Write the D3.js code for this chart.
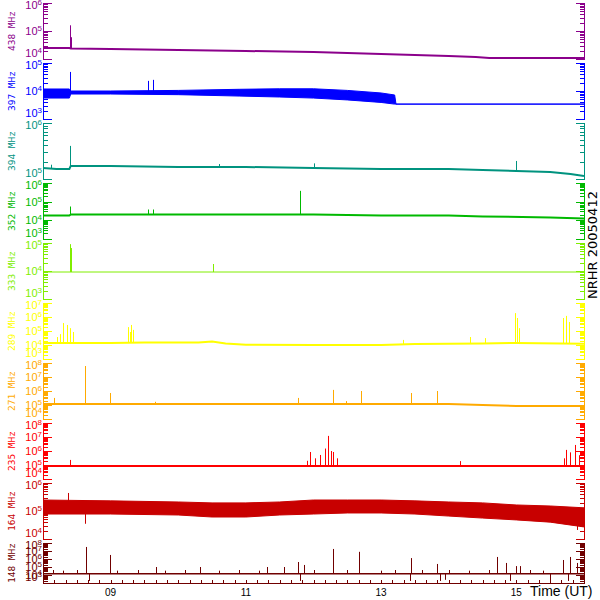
<!DOCTYPE html>
<html><head><meta charset="utf-8">
<script src="https://cdn.jsdelivr.net/npm/d3@7"></script>
<style>body{margin:0;background:#fff}svg{display:block}</style>
</head><body><svg id="c" width="600" height="600"></svg>
<script>
// ---------------- data ----------------
const timeDomain = [8, 16];               // hours UT
const xTickHours = [9, 11, 13, 15];
const xTickLabels = ["09", "11", "13", "15"];
const xAxisTitle = "Time (UT)";
const sideTitle = "NRHR 20050412";

const freqLabels = ["438 MHz","397 MHz","394 MHz","352 MHz","333 MHz","289 MHz","271 MHz","235 MHz","164 MHz","148 MHz"];
const panelColors = ["#8b008b","#0000ff","#00937f","#00b900","#80ee00","#ffff00","#ffaa00","#ff0000","#c80000","#700000"];
const decadeLo = [4,3,5,3,3,3,4,4,4,3];
const decadeHi = [6,5,6,6,5,7,8,8,6,8];

// 438 MHz
const t438 = [8.0, 8.39, 8.41, 9.0, 10.0, 11.0, 12.0, 13.0, 13.5, 14.0, 14.4, 14.6, 16.0];
const v438 = [2.45e4, 2.45e4, 2.37e4, 2.27e4, 2.1e4, 1.93e4, 1.78e4, 1.51e4, 1.39e4, 1.28e4, 1.18e4, 1.09e4, 1.09e4];
const spk438 = [[8.40, 1.6e5], [8.41, 6.0e4]];

// 397 MHz (noisy band)
const t397  = [8.0, 8.39, 8.41, 9.0, 10.0, 10.9, 11.5, 12.0, 12.5, 13.0, 13.2, 13.22, 16.0];
const hi397 = [1.18e4, 1.18e4, 1.0e4, 1.0e4, 1.05e4, 1.15e4, 1.2e4, 1.2e4, 1.05e4, 8.5e3, 7.2e3, 3.4e3, 3.4e3];
const lo397 = [5.6e3, 5.6e3, 7.8e3, 7.8e3, 7.4e3, 6.6e3, 6.1e3, 5.6e3, 4.8e3, 3.9e3, 3.4e3, 3.4e3, 3.4e3];
const spk397 = [[8.40, 4.8e4], [9.55, 2.3e4], [9.63, 2.5e4]];

// 394 MHz
const t394 = [8.0, 8.2, 8.39, 8.41, 9.0, 10.0, 11.0, 12.0, 13.0, 14.0, 14.5, 15.0, 15.5, 15.8, 16.0];
const v394 = [1.57e5, 1.51e5, 1.51e5, 1.71e5, 1.71e5, 1.64e5, 1.64e5, 1.57e5, 1.51e5, 1.51e5, 1.45e5, 1.39e5, 1.33e5, 1.23e5, 1.13e5];
const spk394 = [[8.40, 3.9e5], [8.12, 1.8e5], [10.6, 1.85e5], [12.0, 1.9e5], [15.0, 2.1e5]];

// 352 MHz
const t352 = [8.0, 8.39, 8.41, 12.0, 13.0, 14.0, 14.5, 15.5, 16.0];
const v352 = [1.83e4, 1.83e4, 2.07e4, 2.07e4, 1.83e4, 1.83e4, 1.62e4, 1.43e4, 1.27e4];
const spk352 = [[8.40, 5.5e4], [9.55, 3.8e4], [9.63, 3.8e4], [11.80, 3.8e5]];

// 333 MHz
const t333 = [8.0, 16.0];
const v333 = [9.2e3, 9.2e3];
const spk333 = [[8.40, 9.1e4], [8.42, 6.6e4], [10.51, 1.78e4]];

// 289 MHz
const t289 = [8.0, 9.0, 9.5, 10.3, 10.5, 10.7, 11.0, 12.0, 13.0, 13.5, 14.5, 15.0, 16.0];
const v289 = [1.39e4, 1.39e4, 1.5e4, 1.5e4, 1.8e4, 1.3e4, 1.05e4, 1.0e4, 1.0e4, 1.18e4, 1.3e4, 1.39e4, 1.25e4];
const spk289 = [[8.20, 3.7e4], [8.25, 6.0e4], [8.30, 3.7e5], [8.35, 2.7e5], [8.40, 1.6e5], [8.44, 8.5e4],
                [9.25, 1.9e5], [9.28, 8.5e4], [9.30, 2.7e5], [9.33, 1.2e5], [13.33, 2.3e4], [14.32, 3.7e4],
                [14.54, 3.1e4], [14.98, 1.9e6], [15.01, 8.5e5], [15.04, 1.6e5], [15.69, 8.5e5], [15.74, 1.2e6], [15.78, 4.4e5]];

// 271 MHz
const t271 = [8.0, 14.0, 14.5, 15.0, 16.0];
const v271 = [1.18e5, 1.18e5, 1.0e5, 8.5e4, 8.5e4];
const spk271 = [[8.17, 3.2e5], [8.62, 6.1e7], [8.99, 7.2e5], [9.65, 1.7e5], [11.77, 3.2e5], [12.29, 1.2e6],
                [12.48, 1.9e5], [12.70, 1.0e6], [13.44, 7.2e5], [13.83, 1.0e6]];

// 235 MHz
const t235 = [8.0, 16.0];
const v235 = [8.5e4, 8.5e4];
const spk235 = [[8.40, 2.3e5], [11.90, 2.0e5], [11.95, 8.5e5], [12.02, 3.0e5], [12.10, 5.2e5], [12.17, 1.5e6],
                [12.22, 1.2e7], [12.26, 1.0e6], [12.29, 8.5e5], [12.35, 3.0e5], [14.17, 1.9e5], [15.70, 3.0e5],
                [15.74, 1.2e6], [15.80, 8.0e5], [15.87, 2.7e6], [15.93, 5.0e5]];

// 164 MHz (noisy band)
const t164  = [8.0, 9.0, 10.0, 10.5, 11.0, 11.5, 12.0, 12.5, 13.0, 13.5, 14.0, 14.5, 15.0, 15.5, 16.0];
const hi164 = [2.47e5, 2.3e5, 2.1e5, 1.95e5, 1.95e5, 2.1e5, 2.47e5, 2.47e5, 2.47e5, 2.3e5, 2.1e5, 1.95e5, 1.64e5, 1.51e5, 1.3e5];
const lo164 = [7.8e4, 7.8e4, 7.2e4, 6.1e4, 6.1e4, 7.2e4, 7.8e4, 8.5e4, 8.5e4, 7.8e4, 6.6e4, 5.6e4, 4.8e4, 4.0e4, 2.7e4];
const spk164 = [[8.37, 4.4e5], [8.62, 3.5e4], [15.90, 2.1e4]];

// 148 MHz
const t148 = [8.0, 16.0];
const v148 = [1.4e4, 1.4e4];
const spk148 = [[8.15, 4.2e4], [8.30, 3.5e4], [8.50, 4.2e4], [8.64, 3.2e7], [8.68, 1.8e3], [8.99, 3.2e6],
                [9.10, 3.5e4], [9.40, 4.2e4], [9.67, 1.0e5], [9.80, 3.5e4], [10.10, 4.2e4], [10.32, 1.0e5],
                [10.60, 3.5e4], [10.90, 4.2e4], [11.20, 3.5e4], [11.31, 1.0e5], [11.57, 1.0e5], [11.77, 4.2e5],
                [11.80, 1.8e3], [11.86, 1.8e5], [12.00, 4.2e4], [12.29, 1.8e7], [12.50, 4.2e4], [12.68, 7.9e6],
                [13.00, 3.5e4], [13.20, 4.2e4], [13.43, 1.8e3], [13.44, 1.3e6], [13.60, 4.2e4], [13.83, 2.4e5],
                [13.87, 1.8e3], [13.95, 2.5e3], [14.00, 4.2e4], [14.30, 3.5e4], [14.60, 4.2e4], [14.72, 1.8e6],
                [14.85, 3.2e5], [14.91, 1.8e3], [15.00, 1.3e5], [15.05, 1.3e5], [15.20, 4.2e4], [15.40, 3.5e4],
                [15.49, 1.8e3], [15.69, 7.5e5], [15.77, 1.8e3], [15.80, 1.8e6], [15.90, 3.2e5]];

// ---------------- assemble ----------------
const series = [
  {t: t438, v: v438, spk: spk438, w: 2},
  {t: t397, lo: lo397, hi: hi397, spk: spk397, w: 1},
  {t: t394, v: v394, spk: spk394, w: 2},
  {t: t352, v: v352, spk: spk352, w: 2},
  {t: t333, v: v333, spk: spk333, w: 1},
  {t: t289, v: v289, spk: spk289, w: 2},
  {t: t271, v: v271, spk: spk271, w: 2},
  {t: t235, v: v235, spk: spk235, w: 2},
  {t: t164, lo: lo164, hi: hi164, spk: spk164, w: 1},
  {t: t148, v: v148, spk: spk148, w: 1.5}
];

const svg = d3.select("#c");
svg.append("rect").attr("width",600).attr("height",600).attr("fill","#fff");
const X0 = 43, X1 = 584;
const x = d3.scaleLinear().domain(timeDomain).range([X0, X1]);

function interp(ts, vs, t){
  const i = d3.bisectRight(ts, t);
  if (i <= 0) return vs[0];
  if (i >= ts.length) return vs[vs.length-1];
  const f = (t - ts[i-1]) / (ts[i] - ts[i-1]);
  return Math.exp(Math.log(vs[i-1]) + f*(Math.log(vs[i]) - Math.log(vs[i-1])));
}

series.forEach((s, k) => {
  const top = 3 + 60*k;
  const bottom = k === 9 ? 583 : top + 56;
  const col = panelColors[k];
  const y = d3.scaleLog().domain([Math.pow(10, decadeLo[k]), Math.pow(10, decadeHi[k])]).range([bottom, top]);
  const g = svg.append("g");

  const clipId = "clip" + k;
  svg.append("clipPath").attr("id", clipId).append("rect")
     .attr("x", X0).attr("y", top).attr("width", X1 - X0).attr("height", bottom - top);
  const dg = g.append("g").attr("clip-path", `url(#${clipId})`);

  let baseFn;
  if (s.v) {
    const pts = s.t.map((t,i)=>[t, s.v[i]]);
    dg.append("path").datum(pts)
      .attr("d", d3.line().x(d=>x(d[0])).y(d=>y(d[1])))
      .attr("fill","none").attr("stroke", col).attr("stroke-width", s.w);
    baseFn = t => interp(s.t, s.v, t);
  } else {
    const pts = s.t.map((t,i)=>[t, s.lo[i], s.hi[i]]);
    dg.append("path").datum(pts)
      .attr("d", d3.area().x(d=>x(d[0])).y0(d=>y(d[1])).y1(d=>y(d[2])))
      .attr("fill", col).attr("stroke", col).attr("stroke-width", s.w);
    const mid = s.t.map((t,i)=>Math.sqrt(s.lo[i]*s.hi[i]));
    baseFn = t => interp(s.t, mid, t);
  }
  dg.selectAll("line.spk").data(s.spk).join("line")
    .attr("x1", d=>Math.round(x(d[0]))+0.5).attr("x2", d=>Math.round(x(d[0]))+0.5)
    .attr("y1", d=>y(baseFn(d[0]))).attr("y2", d=>y(d[1]))
    .attr("stroke", col).attr("stroke-width", 1);

  // axes (left and right) with log ticks
  const ag = g.append("g").attr("stroke", col).attr("stroke-width", 1).attr("shape-rendering","crispEdges");
  ag.append("line").attr("x1", X0+0.5).attr("x2", X0+0.5).attr("y1", top).attr("y2", bottom);
  ag.append("line").attr("x1", X1+0.5).attr("x2", X1+0.5).attr("y1", top).attr("y2", bottom);
  const ticks = [];
  for (let d = decadeLo[k]; d <= decadeHi[k]; d++) {
    ticks.push({v: Math.pow(10, d), major: true, d});
    if (d < decadeHi[k]) for (let m = 2; m <= 9; m++) ticks.push({v: m*Math.pow(10, d), major: false});
  }
  ticks.forEach(tk => {
    const yy = Math.round(y(tk.v)) + 0.5;
    const len = tk.major ? 9 : 5;
    ag.append("line").attr("x1", X0).attr("x2", X0+len).attr("y1", yy).attr("y2", yy);
    ag.append("line").attr("x1", X1+1).attr("x2", X1+1-len).attr("y1", yy).attr("y2", yy);
  });
  ticks.filter(tk=>tk.major).forEach(tk => {
    let yy = y(tk.v) + 4;
    if (tk.d === decadeLo[k]) yy = y(tk.v) - 2;
    if (tk.d === decadeHi[k]) yy = y(tk.v) + 6;
    const txt = g.append("text").attr("x", 42).attr("y", yy)
      .attr("text-anchor","end").attr("fill", col)
      .attr("font-family","Liberation Sans, Arial, sans-serif").attr("font-size", 11);
    txt.append("tspan").text("10");
    txt.append("tspan").attr("dy", -4).attr("font-size", 8).text(String(tk.d));
  });

  // frequency label
  g.append("text")
    .attr("transform", `translate(15,${(top+bottom)/2}) rotate(-90)`)
    .attr("text-anchor","middle").attr("fill", col)
    .attr("font-family","DejaVu Sans Mono, monospace").attr("font-size", 9.5)
    .text(freqLabels[k]);

  // x axis on the last panel
  if (k === 9) {
    const xg = g.append("g").attr("stroke", col).attr("shape-rendering","crispEdges");
    xg.append("line").attr("x1", X0).attr("x2", X1+1).attr("y1", bottom+0.5).attr("y2", bottom+0.5);
    const minor = d3.range(0, 49).map(i => timeDomain[0] + i/6);
    xg.selectAll("line.mt").data(minor).join("line")
      .attr("x1", d=>Math.round(x(d))+0.5).attr("x2", d=>Math.round(x(d))+0.5)
      .attr("y1", bottom).attr("y2", bottom-3);
  }
});

// x tick labels
svg.selectAll("text.xl").data(xTickHours).join("text")
  .attr("x", d=>x(d)).attr("y", 596).attr("text-anchor","middle")
  .attr("font-family","Liberation Sans, Arial, sans-serif").attr("font-size", 10).attr("fill","#000")
  .text((d,i)=>xTickLabels[i]);
svg.append("text").attr("x", 530).attr("y", 596)
  .attr("font-family","Liberation Sans, Arial, sans-serif").attr("font-size", 14).attr("fill","#000")
  .text(xAxisTitle);
svg.append("text").attr("transform","translate(597,245) rotate(-90)")
  .attr("text-anchor","middle")
  .attr("font-family","DejaVu Sans, sans-serif").attr("font-size", 13).attr("fill","#000")
  .text(sideTitle);
</script></body></html>
